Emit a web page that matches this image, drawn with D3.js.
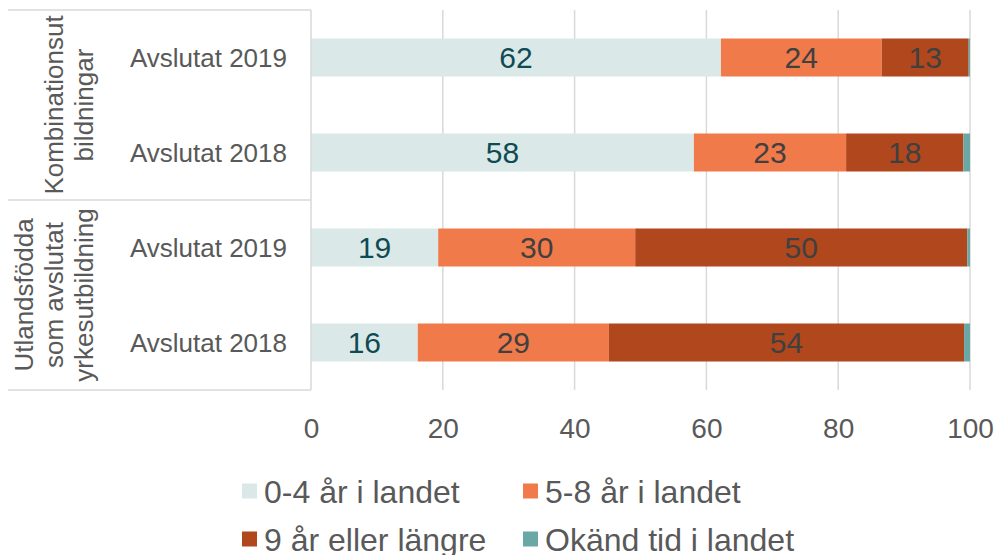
<!DOCTYPE html>
<html>
<head>
<meta charset="utf-8">
<script src="https://cdn.jsdelivr.net/npm/d3@7"></script>
<style>
  body { margin: 0; background: #fff; }
  svg text { font-family: "Liberation Sans", Arial, sans-serif; }
</style>
</head>
<body>
<div id="chart"></div>
<script>
// Kategorier (uppifrån och ned) och grupper
const categories = ["K2019", "K2018", "U2019", "U2018"];
const categoryLabels = ["Avslutat 2019", "Avslutat 2018", "Avslutat 2019", "Avslutat 2018"];
const groups = [
    { lines: ["Kombinationsut", "bildningar"], from: 0, to: 1 },
    { lines: ["Utlandsfödda", "som avslutat", "yrkesutbildning"], from: 2, to: 3 }
];

// Serier (andel i procent), uppläst ur bilden
const seriesNames = ["0-4 år i landet", "5-8 år i landet", "9 år eller längre", "Okänd tid i landet"];
const s04 = [62.2, 58.1, 19.3, 16.2];
const s58 = [24.4, 23.1, 29.9, 29.0];
const s9plus = [13.2, 17.8, 50.4, 53.9];
const sOkand = [0.2, 1.0, 0.4, 0.9];
const shownLabels = [[62, 58, 19, 16], [24, 23, 30, 29], [13, 18, 50, 54], null];

const colors = ["#dae9e8", "#f07a4a", "#b0471d", "#6aa8a6"];
const labelColors = ["#0f4b53", "#404040", "#404040", null];
const xTicks = [0, 20, 40, 60, 80, 100];

const width = 1001, height = 555;
const plot = { left: 311, right: 970, top: 10, bottom: 390 };

const svg = d3.select("#chart").append("svg")
    .attr("width", width)
    .attr("height", height);

const x = d3.scaleLinear().domain([0, 100]).range([plot.left, plot.right]);
const y = d3.scaleBand().domain(categories).range([plot.top, plot.bottom]).paddingInner(0.6).paddingOuter(0.3);
const yRow = d3.scaleBand().domain(categories).range([plot.top, plot.bottom]);

// Stödlinjer
svg.append("g").selectAll("line")
    .data(xTicks.filter(d => d > 0))
    .join("line")
    .attr("x1", d => x(d)).attr("x2", d => x(d))
    .attr("y1", plot.top).attr("y2", plot.bottom)
    .attr("stroke", "#d9d9d9").attr("stroke-width", 1.5);

// Stapeldata
const table = categories.map((c, i) => ({ cat: c, s0: s04[i], s1: s58[i], s2: s9plus[i], s3: sOkand[i] }));
const stack = d3.stack().keys(["s0", "s1", "s2", "s3"])(table);

stack.forEach((layer, k) => {
    svg.append("g").selectAll("rect")
        .data(layer)
        .join("rect")
        .attr("x", d => x(d[0]))
        .attr("y", d => y(d.data.cat))
        .attr("width", d => x(d[1]) - x(d[0]))
        .attr("height", y.bandwidth())
        .attr("fill", colors[k]);

    if (shownLabels[k]) {
        svg.append("g").selectAll("text")
            .data(layer)
            .join("text")
            .attr("x", d => (x(d[0]) + x(d[1])) / 2)
            .attr("y", d => y(d.data.cat) + y.bandwidth() / 2)
            .attr("dy", "0.36em")
            .attr("text-anchor", "middle")
            .attr("font-size", 30)
            .attr("fill", labelColors[k])
            .text((d, i) => shownLabels[k][i]);
    }
});

// Kategoriaxel med ram
const lineColor = "#d9d9d9";
svg.append("line")
    .attr("x1", plot.left).attr("x2", plot.left)
    .attr("y1", plot.top).attr("y2", plot.bottom)
    .attr("stroke", lineColor).attr("stroke-width", 1.5);

const groupEdges = [plot.top, yRow(categories[2]), plot.bottom];
svg.append("g").selectAll("line")
    .data(groupEdges)
    .join("line")
    .attr("x1", 8).attr("x2", plot.left)
    .attr("y1", d => d).attr("y2", d => d)
    .attr("stroke", lineColor).attr("stroke-width", 1.5);

svg.append("g").selectAll("text")
    .data(categories)
    .join("text")
    .attr("x", 287)
    .attr("y", d => yRow(d) + yRow.bandwidth() / 2)
    .attr("dy", "0.36em")
    .attr("text-anchor", "end")
    .attr("font-size", 26)
    .attr("fill", "#595959")
    .text((d, i) => categoryLabels[i]);

// Grupptexter (roterade)
groups.forEach(g => {
    const cy = (yRow(categories[g.from]) + yRow(categories[g.to]) + yRow.bandwidth()) / 2;
    const lastBase = 93;
    const n = g.lines.length;
    g.lines.forEach((line, j) => {
        const bx = lastBase - (n - 1 - j) * 30;
        svg.append("text")
            .attr("transform", `translate(${bx},${cy}) rotate(-90)`)
            .attr("text-anchor", "middle")
            .attr("font-size", 26)
            .attr("fill", "#595959")
            .text(line);
    });
});

// Värdeaxel
const xAxis = svg.append("g")
    .attr("transform", `translate(0, ${plot.bottom})`)
    .call(d3.axisBottom(x).tickValues(xTicks).tickSize(0).tickPadding(0));
xAxis.select(".domain").remove();
xAxis.selectAll("text")
    .attr("y", 38)
    .attr("dy", "0.36em")
    .attr("font-size", 28)
    .attr("font-family", "Liberation Sans, Arial, sans-serif")
    .attr("fill", "#595959");

// Legend
const legendPos = [
    { x: 242, y: 491 }, { x: 523, y: 491 },
    { x: 242, y: 539 }, { x: 523, y: 539 }
];
const legend = svg.append("g").selectAll("g")
    .data(seriesNames)
    .join("g")
    .attr("transform", (d, i) => `translate(${legendPos[i].x}, ${legendPos[i].y})`);
legend.append("rect")
    .attr("x", 0).attr("y", -7.5)
    .attr("width", 15).attr("height", 15)
    .attr("fill", (d, i) => colors[i]);
legend.append("text")
    .attr("x", 22)
    .attr("dy", "0.36em")
    .attr("font-size", 32)
    .attr("fill", "#595959")
    .text(d => d);
</script>
</body>
</html>
